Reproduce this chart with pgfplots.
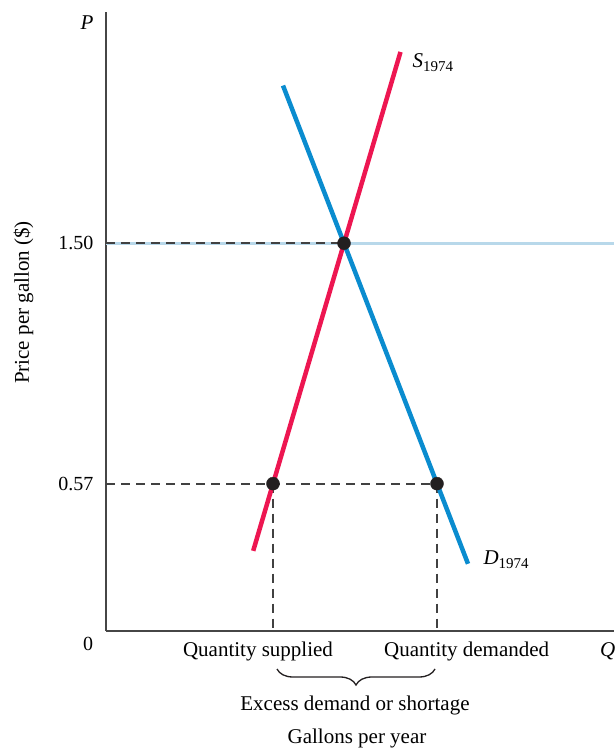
\documentclass[border=0pt]{standalone}
\usepackage{fontspec}
\setmainfont{Liberation Serif}
\usepackage{pgfplots}
\pgfplotsset{compat=1.18}
\usetikzlibrary{decorations.pathreplacing}
\definecolor{supplyred}{RGB}{237,22,81}
\definecolor{demandblue}{RGB}{10,140,207}
\definecolor{lightblue}{RGB}{184,216,234}
\definecolor{dotblack}{RGB}{35,31,32}
\definecolor{dashgray}{RGB}{65,65,65}
\definecolor{axisgray}{RGB}{70,70,70}
\begin{document}
\begin{tikzpicture}[font=\fontsize{21}{25}\selectfont]
\begin{axis}[
  anchor=origin, at={(0pt,0pt)},
  x=1pt, y=258.5pt,
  xmin=0, xmax=508, ymin=0, ymax=2.395,
  axis x line=bottom, axis y line=left,
  axis line style={-, draw=axisgray, line width=1.5pt},
  xtick=\empty,
  ytick={0.57,1.5}, yticklabels={0.57,1.50},
  major tick length=0pt,
  yticklabel style={font=\fontsize{20}{24}\selectfont, anchor=east, inner sep=0pt, xshift=-12.5pt, /pgf/number format/assume math mode=true},
  clip=false,
]
\addplot[draw=lightblue, line width=3pt] coordinates {(0,1.5) (508,1.5)};
\addplot[draw=dashgray, line width=1.7pt, dash pattern=on 9pt off 6pt] coordinates {(0,1.5) (238,1.5)};
\addplot[draw=dashgray, line width=1.7pt, dash pattern=on 9pt off 6pt] coordinates {(0,0.57) (331,0.57)};
\addplot[draw=dashgray, line width=1.7pt, dash pattern=on 9pt off 6pt] coordinates {(167,0.57) (167,0)};
\addplot[draw=dashgray, line width=1.7pt, dash pattern=on 9pt off 6pt] coordinates {(331,0.57) (331,0)};
\addplot[draw=supplyred, line width=4.5pt] coordinates {(147.2,0.31) (294.5,2.24)};
\addplot[draw=demandblue, line width=4.5pt] coordinates {(177,2.11) (362,0.26)};
\addplot[only marks, mark=*, mark size=6.5pt, draw=dotblack, fill=dotblack] coordinates {(238,1.5) (167,0.57) (331,0.57)};
\end{axis}
\node[anchor=base west, inner sep=0pt] at (-25.5pt,601.6pt) {\textit{P}};
\node[anchor=base, inner sep=0pt] at (-18pt,-19.7pt) {\fontsize{20}{24}\selectfont 0};
\node[anchor=base, inner sep=0pt] at (152pt,-25pt) {Quantity supplied};
\node[anchor=base, inner sep=0pt] at (360.7pt,-25pt) {Quantity demanded};
\node[anchor=base west, inner sep=0pt] at (494pt,-25pt) {\textit{Q}};
\node[anchor=base, inner sep=0pt] at (249pt,-79.7pt) {Excess demand or shortage};
\node[anchor=base, inner sep=0pt] at (251pt,-112.3pt) {Gallons per year};
\node[rotate=90, anchor=base, inner sep=0pt] at (-77pt,328.5pt) {Price per gallon (\$)};
\node[anchor=base west, inner sep=0pt] at (306.3pt,563pt) {\textit{S}\raisebox{-4pt}{\fontsize{15}{15}\selectfont 1974}};
\node[anchor=base west, inner sep=0pt] at (377.3pt,66pt) {\textit{D}\raisebox{-4pt}{\fontsize{15}{15}\selectfont 1974}};
\draw[draw=dotblack, line width=1.3pt, decorate, decoration={brace, mirror, amplitude=16pt}] (171pt,-38pt) -- (329pt,-38pt);
\pgfresetboundingbox
\path (-106pt,-120pt) rectangle (508pt,631pt);
\end{tikzpicture}
\end{document}
